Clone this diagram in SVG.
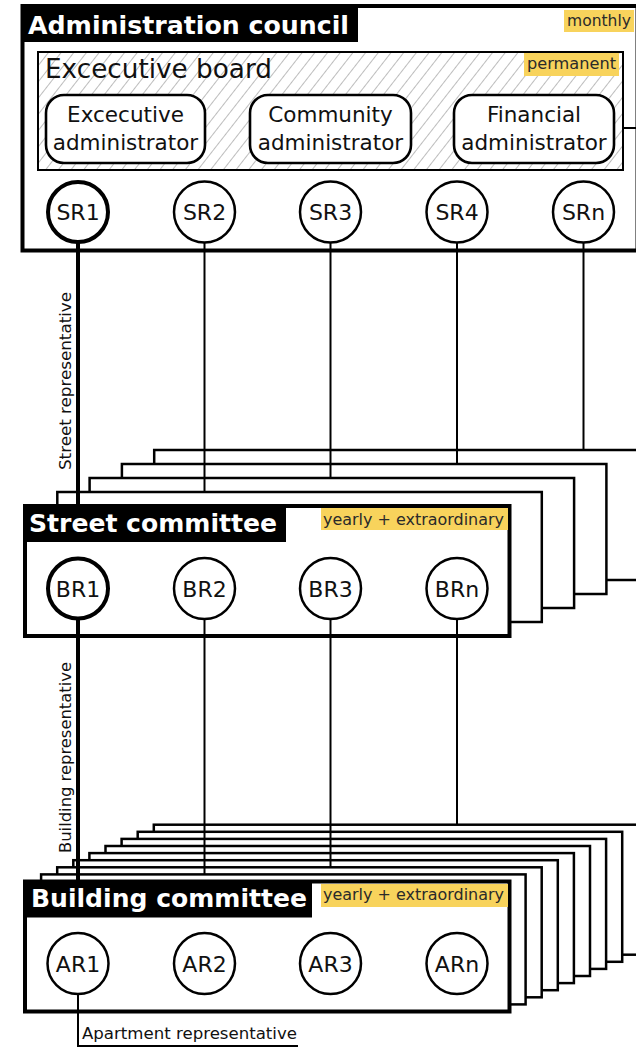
<svg xmlns="http://www.w3.org/2000/svg" width="636" height="1048" viewBox="0 0 636 1048">
<defs>
<pattern id="hatch" patternUnits="userSpaceOnUse" width="10" height="10" patternTransform="rotate(38)">
<rect width="10" height="10" fill="#fff"/>
<line x1="0" y1="0" x2="0" y2="10" stroke="#9a9a9a" stroke-width="1.3"/>
</pattern>
</defs>
<style>
.box{fill:#fff;stroke:#000;stroke-width:4}
.frame{fill:#fff;stroke:#000;stroke-width:2.5}
.bar{fill:#000}
.title{font-family:"DejaVu Sans",sans-serif;font-weight:bold;font-size:25px;fill:#fff}
.lbl{fill:#f8d35c}
.lbltxt{font-family:"DejaVu Sans",sans-serif;font-size:15.5px;fill:#2a2a2a}
.rbox{fill:#fff;stroke:#000;stroke-width:2.6}
.btxt{font-family:"DejaVu Sans",sans-serif;font-size:21.5px;fill:#111;text-anchor:middle}
.node{fill:#fff;stroke:#000;stroke-width:2.5}
.node.main{stroke-width:4}
.ntxt{font-family:"DejaVu Sans",sans-serif;font-size:22px;fill:#111;text-anchor:middle}
.ln{stroke:#000;stroke-width:2;fill:none}
.ln.thick{stroke-width:4}
.side{font-family:"DejaVu Sans",sans-serif;font-size:15.5px;fill:#111}
</style>
<rect width="636" height="1048" fill="#fff"/>

<g id="administration-council">
<rect class="box" x="22.5" y="6" width="615" height="244.5"/>
<rect class="bar" x="22.5" y="6" width="335.5" height="36"/>
<text class="title" x="28" y="34" textLength="321" lengthAdjust="spacingAndGlyphs">Administration council</text>
<rect class="lbl" x="564" y="10" width="70" height="22"/>
<text class="lbltxt" x="567" y="25.5" textLength="64" lengthAdjust="spacingAndGlyphs">monthly</text>
</g>

<g id="executive-board">
<rect x="38" y="52" width="585" height="118" fill="url(#hatch)" stroke="#000" stroke-width="2"/>
<text x="45" y="78" font-family="DejaVu Sans, sans-serif" font-size="27" fill="#111" textLength="227" lengthAdjust="spacingAndGlyphs">Excecutive board</text>
<rect class="lbl" x="524" y="53" width="95" height="23"/>
<text class="lbltxt" x="527" y="68.5" textLength="89" lengthAdjust="spacingAndGlyphs">permanent</text>
</g>

<g id="executive-administrator">
<rect class="rbox" x="46" y="95" width="159" height="68" rx="18"/>
<text class="btxt" x="125.5" y="122">Excecutive</text>
<text class="btxt" x="125.5" y="150">administrator</text>
</g>
<g id="community-administrator">
<rect class="rbox" x="250" y="95" width="161" height="68" rx="18"/>
<text class="btxt" x="330.5" y="122">Community</text>
<text class="btxt" x="330.5" y="150">administrator</text>
</g>
<g id="financial-administrator">
<rect class="rbox" x="454" y="95" width="160" height="68" rx="18"/>
<text class="btxt" x="534" y="122">Financial</text>
<text class="btxt" x="534" y="150">administrator</text>
</g>

<g id="street-committee">
<rect class="frame" x="154.2" y="450" width="484.5" height="130"/>
<rect class="frame" x="121.9" y="464" width="484.5" height="130"/>
<rect class="frame" x="89.6" y="478" width="484.5" height="130"/>
<rect class="frame" x="57.3" y="492" width="484.5" height="130"/>
<rect class="box" x="25" y="506" width="484.5" height="130"/>
<rect class="bar" x="25" y="506" width="261" height="36"/>
<text class="title" x="29" y="532" textLength="248" lengthAdjust="spacingAndGlyphs">Street committee</text>
<rect class="lbl" x="321" y="508" width="187" height="22"/>
<text class="lbltxt" x="323" y="524.5" textLength="181" lengthAdjust="spacingAndGlyphs">yearly + extraordinary</text>
</g>

<g id="building-committee">
<rect class="frame" x="153.8" y="824.7" width="484.5" height="130"/>
<rect class="frame" x="137.7" y="831.8" width="484.5" height="130"/>
<rect class="frame" x="121.6" y="838.9" width="484.5" height="130"/>
<rect class="frame" x="105.5" y="846" width="484.5" height="130"/>
<rect class="frame" x="89.4" y="853.1" width="484.5" height="130"/>
<rect class="frame" x="73.3" y="860.2" width="484.5" height="130"/>
<rect class="frame" x="57.2" y="867.3" width="484.5" height="130"/>
<rect class="frame" x="41.1" y="874.4" width="484.5" height="130"/>
<rect class="box" x="25" y="881.5" width="484.5" height="130"/>
<rect class="bar" x="25" y="881.5" width="287" height="36"/>
<text class="title" x="31" y="907" textLength="276" lengthAdjust="spacingAndGlyphs">Building committee</text>
<rect class="lbl" x="321" y="884" width="187" height="23"/>
<text class="lbltxt" x="323" y="900" textLength="181" lengthAdjust="spacingAndGlyphs">yearly + extraordinary</text>
</g>

<g id="connectors">
<line class="ln" x1="623" y1="128" x2="640" y2="128"/>
<line class="ln thick" x1="78" y1="240" x2="78" y2="506"/>
<line class="ln" x1="204.5" y1="242" x2="204.5" y2="492"/>
<line class="ln" x1="330.5" y1="242" x2="330.5" y2="478"/>
<line class="ln" x1="457" y1="242" x2="457" y2="464"/>
<line class="ln" x1="583.5" y1="242" x2="583.5" y2="450"/>
<line class="ln thick" x1="78" y1="617" x2="78" y2="881.5"/>
<line class="ln" x1="204.5" y1="619" x2="204.5" y2="874.4"/>
<line class="ln" x1="330.5" y1="619" x2="330.5" y2="867.3"/>
<line class="ln" x1="457" y1="619" x2="457" y2="824.7"/>
<polyline class="ln" points="78,994 78,1046 298,1046"/>
<text class="side" transform="translate(71,470) rotate(-90)" textLength="178" lengthAdjust="spacingAndGlyphs">Street representative</text>
<text class="side" transform="translate(71,853) rotate(-90)" textLength="191" lengthAdjust="spacingAndGlyphs">Building representative</text>
<text class="side" x="82" y="1039" font-size="16.5" textLength="215" lengthAdjust="spacingAndGlyphs">Apartment representative</text>
</g>

<g id="SR1"><circle class="node main" cx="78" cy="212" r="30"/><text class="ntxt" x="78" y="220">SR1</text></g>
<g id="SR2"><circle class="node" cx="204.5" cy="212" r="30.5"/><text class="ntxt" x="204.5" y="220">SR2</text></g>
<g id="SR3"><circle class="node" cx="330.5" cy="212" r="30.5"/><text class="ntxt" x="330.5" y="220">SR3</text></g>
<g id="SR4"><circle class="node" cx="457" cy="212" r="30.5"/><text class="ntxt" x="457" y="220">SR4</text></g>
<g id="SRn"><circle class="node" cx="583.5" cy="212" r="30.5"/><text class="ntxt" x="583.5" y="220">SRn</text></g>

<g id="BR1"><circle class="node main" cx="78" cy="588.5" r="30"/><text class="ntxt" x="78" y="597">BR1</text></g>
<g id="BR2"><circle class="node" cx="204.5" cy="588.5" r="30.5"/><text class="ntxt" x="204.5" y="597">BR2</text></g>
<g id="BR3"><circle class="node" cx="330.5" cy="588.5" r="30.5"/><text class="ntxt" x="330.5" y="597">BR3</text></g>
<g id="BRn"><circle class="node" cx="457" cy="588.5" r="30.5"/><text class="ntxt" x="457" y="597">BRn</text></g>

<g id="AR1"><circle class="node" cx="78" cy="963.5" r="30.5"/><text class="ntxt" x="78" y="972">AR1</text></g>
<g id="AR2"><circle class="node" cx="204.5" cy="963.5" r="30.5"/><text class="ntxt" x="204.5" y="972">AR2</text></g>
<g id="AR3"><circle class="node" cx="330.5" cy="963.5" r="30.5"/><text class="ntxt" x="330.5" y="972">AR3</text></g>
<g id="ARn"><circle class="node" cx="457" cy="963.5" r="30.5"/><text class="ntxt" x="457" y="972">ARn</text></g>
</svg>
